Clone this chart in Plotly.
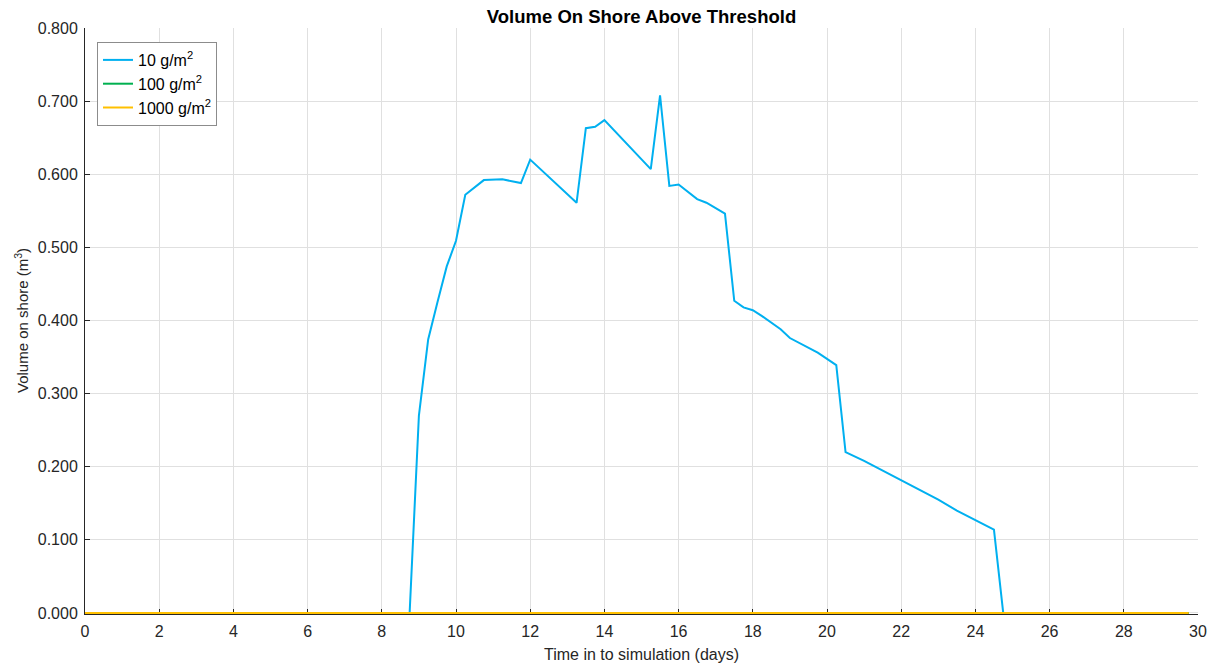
import plotly.graph_objects as go

# Time axis (days) for the flat series
time_all = [i * 0.25 for i in range(0, 120)]  # 0 .. 29.75 days
zeros_all = [0.0] * len(time_all)

# 10 g/m2 series (vertices)
t_10 = [0.0, 8.75, 9.0, 9.25, 9.5, 9.75, 10.0, 10.25, 10.75, 11.25, 11.75, 12.0,
        13.25, 13.5, 13.75, 14.0, 15.25, 15.5, 15.75, 16.0, 16.5, 16.75, 17.25,
        17.5, 17.75, 18.0, 18.25, 18.75, 19.0, 19.75, 20.25, 20.5, 21.0, 21.5,
        22.0, 22.5, 23.0, 23.5, 24.0, 24.5, 24.75, 29.75]
v_10 = [0.0, 0.0, 0.270, 0.374, 0.425, 0.474, 0.509, 0.572, 0.592, 0.593, 0.588, 0.620,
        0.561, 0.663, 0.665, 0.674, 0.607, 0.708, 0.584, 0.586, 0.566, 0.561, 0.546,
        0.427, 0.418, 0.414, 0.406, 0.388, 0.376, 0.356, 0.339, 0.220, 0.208, 0.195,
        0.181, 0.168, 0.155, 0.140, 0.127, 0.114, 0.0, 0.0]

v_100 = zeros_all
v_1000 = zeros_all

series_names = ["10 g/m<sup>2</sup>", "100 g/m<sup>2</sup>", "1000 g/m<sup>2</sup>"]
series_colors = ["#00B0F0", "#00B050", "#FFC000"]

x_ticks = list(range(0, 31, 2))
y_ticks = [i / 10 for i in range(0, 9)]

fig = go.Figure()
fig.add_trace(go.Scatter(x=t_10, y=v_10, mode="lines", name=series_names[0],
                         line=dict(color=series_colors[0], width=2)))
fig.add_trace(go.Scatter(x=time_all, y=v_100, mode="lines", name=series_names[1],
                         line=dict(color=series_colors[1], width=2)))
fig.add_trace(go.Scatter(x=time_all, y=v_1000, mode="lines", name=series_names[2],
                         line=dict(color=series_colors[2], width=2)))

axis_color = "#262626"
grid_color = "#e0e0e0"
font_family = "Liberation Sans, Arial, sans-serif"

W, H = 1215, 668
L, R, T, B = 85, 17, 28, 54
pw, ph = W - L - R, H - T - B

fig.update_layout(
    width=W, height=H,
    margin=dict(l=L, r=R, t=T, b=B, autoexpand=False),
    paper_bgcolor="white", plot_bgcolor="white",
    font=dict(family=font_family, color=axis_color, size=15),
    title=dict(text="<b>Volume On Shore Above Threshold</b>", x=0.5, xref="paper",
               xanchor="center", y=1 - 17 / H, yref="container", yanchor="middle",
               font=dict(size=18.5, color="#000000")),
    showlegend=True,
    legend=dict(x=(97 - L) / pw, y=(H - B - 42) / ph, xanchor="left", yanchor="top",
                bgcolor="white", bordercolor="#8c8c8c", borderwidth=1,
                font=dict(size=16, color="#000000"), tracegroupgap=0),
    xaxis=dict(range=[0, 30], tickvals=x_ticks, ticktext=[str(v) for v in x_ticks],
               showgrid=True, gridcolor=grid_color, gridwidth=1,
               showline=True, linecolor=axis_color, linewidth=1, mirror=False,
               ticks="inside", ticklen=5, tickcolor=axis_color, zeroline=False,
               layer="below traces", automargin=False, ticklabelstandoff=3,
               tickfont=dict(size=16, color=axis_color)),
    yaxis=dict(range=[-0.0014, 0.8], tickvals=y_ticks, tickformat=".3f",
               showgrid=True, gridcolor=grid_color, gridwidth=1,
               showline=True, linecolor=axis_color, linewidth=1, mirror=False,
               ticks="inside", ticklen=5, tickcolor=axis_color, zeroline=False,
               layer="below traces", automargin=False, ticklabelstandoff=3,
               tickfont=dict(size=16, color=axis_color)),
    annotations=[
        dict(text="Time in to simulation (days)", xref="paper", yref="paper",
             x=0.5, y=-(654 - (H - B)) / ph, xanchor="center", yanchor="middle",
             showarrow=False, font=dict(size=16, color=axis_color)),
        dict(text="Volume on shore (m<sup>3</sup>)", xref="paper", yref="paper",
             x=-(L - 21) / pw, y=0.5, xanchor="center", yanchor="middle",
             textangle=-90, showarrow=False, font=dict(size=15, color=axis_color)),
    ],
)

fig.write_html("out.html", config={"displayModeBar": False},
               post_script="document.body.style.margin='0';")
